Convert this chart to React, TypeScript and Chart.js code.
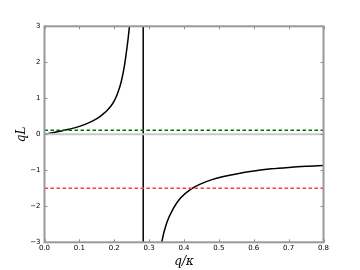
import React, { useEffect, useRef } from "react";
import { Chart, registerables } from "chart.js";

Chart.register(...registerables);

// Left branch of qL vs q/κ
const leftX = [0, 0.02, 0.04, 0.06, 0.08, 0.10, 0.12, 0.14, 0.16, 0.17, 0.18, 0.19, 0.20, 0.21, 0.22, 0.23, 0.235, 0.24, 0.245, 0.25];
const leftY = [0, 0.035, 0.075, 0.12, 0.165, 0.22, 0.29, 0.38, 0.50, 0.58, 0.67, 0.78, 0.93, 1.15, 1.46, 1.95, 2.30, 2.68, 3.15, 3.8];
// Right branch
const rightX = [0.33, 0.336, 0.35, 0.37, 0.39, 0.42, 0.45, 0.48, 0.51, 0.55, 0.60, 0.65, 0.70, 0.75, 0.80];
const rightY = [-3.4, -3.0, -2.47, -2.05, -1.77, -1.52, -1.37, -1.26, -1.18, -1.10, -1.02, -0.96, -0.92, -0.89, -0.87];
// Reference lines
const asymptoteX = 0.283;
const greenLevel = 0.11;
const redLevel = -1.5;
const zeroLevel = 0;
const xRange = [0, 0.8];
const yRange = [-3, 3];

const pts = (xs: number[], ys: number[]) => xs.map((x, i) => ({ x, y: ys[i] }));

const framePlugin = {
  id: "frame",
  afterDatasetsDraw(chart: any) {
    const { ctx, chartArea, scales } = chart;
    const { left, right, top, bottom } = chartArea;
    ctx.save();
    ctx.strokeStyle = "#8c8c8c";
    ctx.lineWidth = 1;
    const tl = 3;
    scales.x.ticks.forEach((t: any) => {
      const px = Math.round(scales.x.getPixelForValue(t.value)) + 0.5;
      ctx.beginPath();
      ctx.moveTo(px, bottom);
      ctx.lineTo(px, bottom - tl);
      ctx.moveTo(px, top);
      ctx.lineTo(px, top + tl);
      ctx.stroke();
    });
    scales.y.ticks.forEach((t: any) => {
      const py = Math.round(scales.y.getPixelForValue(t.value)) + 0.5;
      ctx.beginPath();
      ctx.moveTo(left, py);
      ctx.lineTo(left + tl, py);
      ctx.moveTo(right, py);
      ctx.lineTo(right - tl, py);
      ctx.stroke();
    });
    ctx.strokeStyle = "#999999";
    ctx.lineWidth = 2;
    ctx.strokeRect(left, top, right - left, bottom - top);
    ctx.restore();
  },
};

export default function App() {
  const ref = useRef<HTMLCanvasElement>(null);
  useEffect(() => {
    if (!ref.current) return;
    const dash = [3.5, 2.5];
    const chart = new Chart(ref.current, {
      type: "line",
      data: {
        datasets: [
          {
            data: pts(xRange, [zeroLevel, zeroLevel]),
            borderColor: "#c8c8c8",
            borderWidth: 2,
            pointRadius: 0,
          },
          {
            data: pts(xRange, [greenLevel, greenLevel]),
            borderColor: "#006f00",
            borderWidth: 1.5,
            borderDash: dash,
            pointRadius: 0,
          },
          {
            data: pts(xRange, [redLevel, redLevel]),
            borderColor: "#ff3b3b",
            borderWidth: 1.5,
            borderDash: dash,
            pointRadius: 0,
          },
          {
            data: pts([asymptoteX, asymptoteX], yRange),
            borderColor: "#000000",
            borderWidth: 1.5,
            pointRadius: 0,
          },
          {
            data: pts(leftX, leftY),
            borderColor: "#000000",
            borderWidth: 1.5,
            pointRadius: 0,
            cubicInterpolationMode: "monotone",
          },
          {
            data: pts(rightX, rightY),
            borderColor: "#000000",
            borderWidth: 1.5,
            pointRadius: 0,
            cubicInterpolationMode: "monotone",
          },
        ],
      },
      options: {
        animation: false,
        responsive: false,
        devicePixelRatio: 1,
        layout: { padding: { top: 26.3, right: 36.5, left: 0, bottom: 0 } },
        plugins: { legend: { display: false }, tooltip: { enabled: false } },
        scales: {
          x: {
            type: "linear",
            min: xRange[0],
            max: xRange[1],
            grid: { display: false, drawTicks: false, tickLength: 0 },
            border: { display: false },
            ticks: {
              stepSize: 0.1,
              padding: 2,
              color: "#000",
              maxRotation: 0,
              font: { family: "DejaVu Sans", size: 7 },
              callback: (v: any) => Number(v).toFixed(1),
            },
            title: {
              display: true,
              text: "q/κ",
              color: "#000",
              font: { family: "DejaVu Serif", style: "italic", size: 12 },
              padding: { top: 0, bottom: 1.3 },
            },
            afterFit: (s: any) => {
              s.height = 27.7;
            },
          },
          y: {
            type: "linear",
            min: yRange[0],
            max: yRange[1],
            grid: { display: false, drawTicks: false, tickLength: 0 },
            border: { display: false },
            ticks: {
              stepSize: 1,
              padding: 4,
              color: "#000",
              font: { family: "DejaVu Sans", size: 7 },
              callback: (v: any) => (v < 0 ? "\u2212" + Math.abs(v) : String(v)),
            },
            title: {
              display: true,
              text: "qL",
              color: "#000",
              font: { family: "DejaVu Serif", style: "italic", size: 12 },
              padding: { top: 14.5, bottom: 0 },
            },
            afterFit: (s: any) => {
              s.width = 44.5;
            },
          },
        },
      },
      plugins: [framePlugin],
    } as any);
    return () => chart.destroy();
  }, []);
  return (
    <div style={{ position: "absolute", left: 0, top: 0, width: 360, height: 270, background: "#fff" }}>
      <canvas ref={ref} width={360} height={270} />
    </div>
  );
}
